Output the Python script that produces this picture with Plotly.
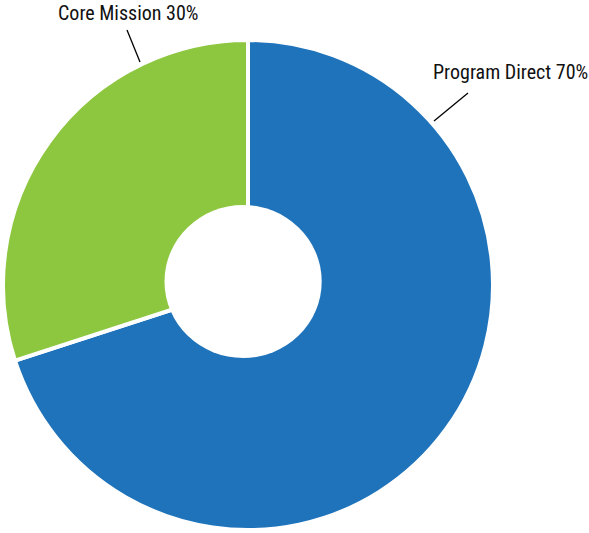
import plotly.graph_objects as go

W, H = 589, 533

labels = ["Program Direct", "Core Mission"]
values = [70, 30]
colors = ["#1f73bb", "#8dc63f"]
label_text = ["Program Direct 70%", "Core Mission 30%"]

# label text centre (px) and leader line (start on pie edge -> end near text), px
label_pos = [(510, 72), (128, 13)]
leader = [((434, 121), (468, 93)), ((140, 62), (127, 30))]

def px(x):
    return x / W

def py(y):
    return 1 - y / H

fig = go.Figure()
fig.add_trace(go.Pie(
    labels=labels,
    values=values,
    sort=False,
    direction="clockwise",
    rotation=0,
    textinfo="none",
    hoverinfo="skip",
    marker=dict(colors=colors, line=dict(color="white", width=4)),
    domain=dict(x=[px(3), px(493)], y=[py(530), py(40)]),
    showlegend=False,
))

shapes = [
    dict(type="circle", xref="paper", yref="paper",
         x0=px(164.5), x1=px(321.7), y0=py(358), y1=py(205),
         fillcolor="white", line=dict(width=0), layer="above"),
]
for (a, b) in leader:
    shapes.append(dict(type="line", xref="paper", yref="paper",
                       x0=px(a[0]), y0=py(a[1]), x1=px(b[0]), y1=py(b[1]),
                       line=dict(color="black", width=1.3), layer="above"))

annotations = []
for t, (x, y) in zip(label_text, label_pos):
    annotations.append(dict(text=t, x=px(x), y=py(y), xref="paper", yref="paper",
                            showarrow=False, xanchor="center", yanchor="middle",
                            font=dict(family="Roboto Condensed, Liberation Sans Narrow, DejaVu Sans Condensed",
                                      size=20, color="#111111")))

fig.update_layout(
    width=W, height=H,
    margin=dict(l=0, r=0, t=0, b=0),
    paper_bgcolor="white",
    plot_bgcolor="white",
    shapes=shapes,
    annotations=annotations,
)

fig.write_html("out.html", config={"displayModeBar": False},
               post_script="document.body.style.margin='0';document.body.style.padding='0';")
